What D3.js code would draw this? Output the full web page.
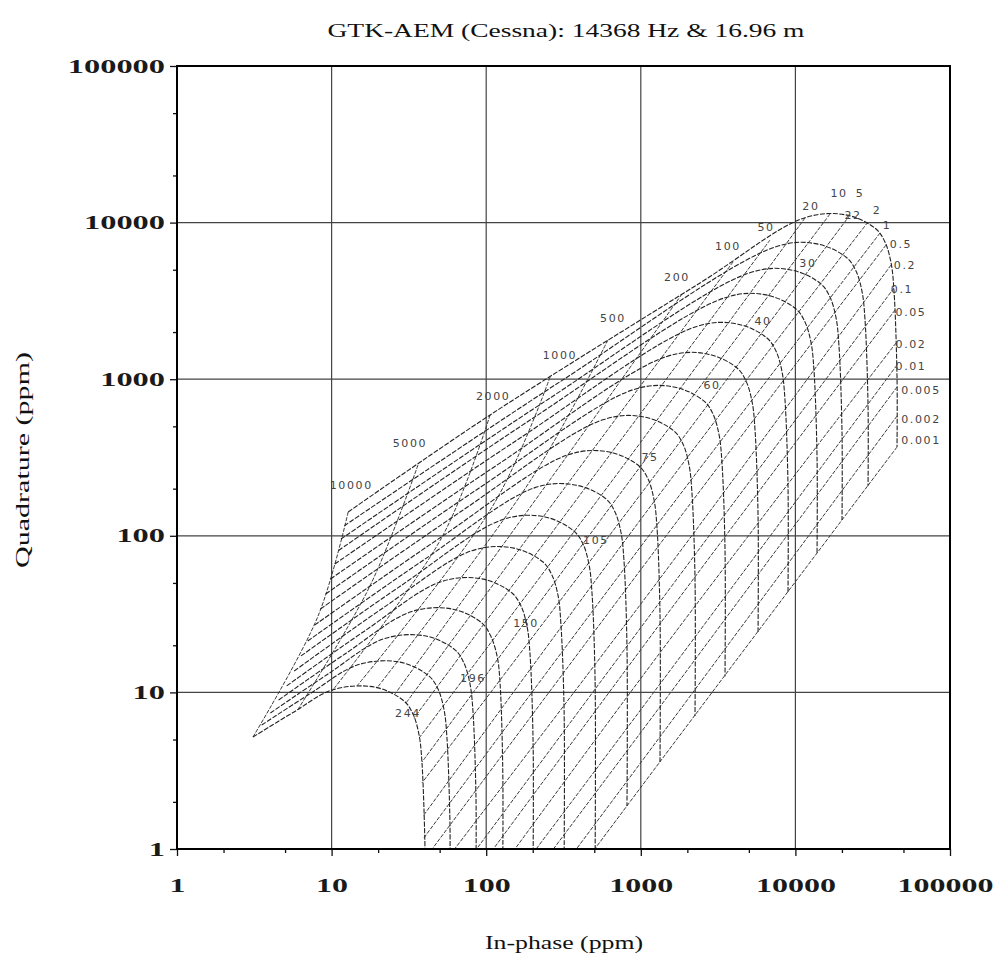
<!DOCTYPE html>
<html>
<head>
<meta charset="utf-8">
<script src="https://cdn.jsdelivr.net/npm/d3@7"></script>
<style>
  body { margin: 0; background: #fff; }
</style>
</head>
<body>
<div class="chart"></div>
<script>
// decade ticks on both axes
const xTicks = [1, 10, 100, 1000, 10000, 100000]
const yTicks = [1, 10, 100, 1000, 10000, 100000]
const minorTicks = [2, 5, 20, 50, 200, 500, 2000, 5000, 20000, 50000]

// height curves (m), lowest altitude first; points are [in-phase, quadrature] in ppm
const heightCurves = [
  [[12.8, 142], [106, 591], [2415, 4116], [11526, 10743], [21583, 11156], [33222, 9101], [37968, 7520], [41584, 5527], [43392, 3708], [45426, 1033], [45426, 369]],
  [[12.1, 116], [302, 967], [7486, 7014], [14017, 7284], [21577, 5941], [24659, 4910], [27008, 3608], [28182, 2421], [29503, 674], [29503, 208]],
  [[11.5, 95.4], [242, 726], [5080, 4784], [9512, 4968], [14641, 4053], [16733, 3349], [18326, 2461], [19123, 1651], [20020, 460], [20020, 126]],
  [[11.1, 80.6], [197, 557], [3502, 3313], [6557, 3441], [10093, 2807], [11535, 2319], [12633, 1704], [13183, 1144], [13801, 319], [13801, 77.7]],
  [[10.5, 66.1], [155, 403], [2273, 2163], [4255, 2246], [6550, 1832], [7486, 1514], [8199, 1113], [8556, 747], [8957, 208], [8957, 43.8]],
  [[9.84, 53.0], [120, 287], [1455, 1392], [2724, 1445], [4192, 1179], [4791, 974], [5248, 716], [5476, 480], [5733, 134], [5733, 24.3]],
  [[9.15, 42.5], [90.2, 202], [889, 856], [1666, 889], [2564, 725], [2930, 600], [3209, 441], [3348, 296], [3505, 82.4], [3505, 12.7]],
  [[8.47, 34.1], [69.4, 144], [569, 551], [1065, 572], [1639, 467], [1874, 386], [2052, 283], [2141, 190], [2242, 53.0], [2242, 7.07]],
  [[7.76, 26.9], [51.2, 98.2], [338, 329], [633, 342], [974, 279], [1113, 231], [1219, 169], [1272, 114], [1331, 31.7], [1331, 3.59]],
  [[7.01, 21.3], [38.1, 68.5], [207, 203], [387, 210], [596, 172], [681, 142], [746, 104], [778, 70.0], [814, 19.5], [814, 1.88]],
  [[6.34, 17.1], [28.5, 48.5], [128, 127], [240, 132], [370, 107], [423, 88.7], [463, 65.2], [483, 43.7], [506, 12.2], [506, 0.8]],
  [[5.73, 13.7], [21.5, 34.6], [80.8, 80.3], [151, 83.4], [233, 68.0], [266, 56.2], [292, 41.3], [304, 27.7], [319, 7.72], [319, 0.8]],
  [[5.12, 11.0], [16.2, 24.5], [51.0, 50.9], [95.4, 52.9], [147, 43.1], [168, 35.6], [184, 26.2], [192, 17.6], [201, 4.89], [201, 0.8]],
  [[4.54, 8.94], [12.2, 17.6], [32.6, 32.7], [61.0, 34.0], [93.9, 27.7], [107, 22.9], [118, 16.8], [123, 11.3], [128, 3.15], [128, 0.8]],
  [[4.02, 7.39], [9.37, 13.0], [21.8, 22.0], [40.8, 22.9], [62.8, 18.7], [71.8, 15.4], [78.6, 11.3], [82.1, 7.60], [85.9, 2.12], [85.9, 0.8]],
  [[3.53, 6.19], [7.24, 9.80], [14.8, 15.0], [27.7, 15.6], [42.7, 12.7], [48.8, 10.5], [53.4, 7.73], [55.7, 5.18], [58.3, 1.44], [58.3, 0.8]],
  [[3.10, 5.19], [5.63, 7.44], [10.2, 10.4], [19.1, 10.8], [29.4, 8.81], [33.6, 7.28], [36.8, 5.35], [38.4, 3.59], [40.2, 1.0], [40.2, 0.8]]
]

// height labels and where they sit
const heightLabels = ["22", "30", "40", "60", "75", "105", "150", "196", "244"]
const heightLabelPos = [[23590, 11020], [12060, 5521], [6172, 2319], [2887, 905], [1147, 314], [513, 94.0], [181, 27.7], [82.1, 12.2], [31.2, 7.28]]

// resistivity lines (ohm-m): start at lowest height, middle, end at highest height
const rhoValues = ["10000", "5000", "2000", "1000", "500", "200", "100", "50", "20", "10", "5", "2", "1",
  "0.5", "0.2", "0.1", "0.05", "0.02", "0.01", "0.005", "0.002", "0.001"]
const rhoLines = [
  [[12.8, 142], [8.17, 30.7], [3.10, 5.19]],
  [[36.2, 283], [17.7, 47.8], [5.97, 7.61]],
  [[106, 591], [51.8, 98.2], [10.06, 10.2]],
  [[259, 1033], [114, 164], [14.6, 11.0]],
  [[613, 1780], [198, 234], [19.7, 10.7]],
  [[1847, 3500], [333, 323], [25.7, 9.77]],
  [[3948, 5603], [483, 348], [30.3, 8.56]],
  [[6850, 7743], [651, 343], [34.1, 6.86]],
  [[11535, 10700], [839, 314], [36.8, 5.11]],
  [[16743, 11350], [988, 275], [38.4, 3.59]],
  [[22550, 11180], [1130, 217], [38.4, 2.64]],
  [[29490, 10090], [1199, 162], [39.0, 1.62]],
  [[35260, 8580], [1254, 115], [39.6, 1.18]],
  [[38550, 7194], [1273, 83.6], [39.6, 0.851]],
  [[41530, 5360], [1292, 51.4], [39.6, 0.555]],
  [[43420, 3823], [1312, 37.2], [39.6, 0.352]],
  [[44090, 2767], [1312, 26.9], [39.6, 0.251]],
  [[44740, 1703], [1312, 17.6], [39.6, 0.161]],
  [[45420, 1232], [1312, 11.1], [39.6, 0.112]],
  [[45420, 892], [1312, 7.95], [39.6, 0.0797]],
  [[45420, 582], [1312, 5.11], [39.6, 0.0498]],
  [[45420, 369], [1312, 3.54], [39.6, 0.0345]]
]
const rhoLabelPos = [[13.4, 208], [32.1, 386], [111, 781], [300, 1427], [661, 2459], [1715, 4429], [3664, 6986],
  [6455, 9237], [12610, 12580], [19140, 15450], [26180, 15450], [33720, 11860], [39130, 9513],
  [48210, 7300], [51170, 5360], [48920, 3712], [55940, 2686], [55940, 1654], [55940, 1214],
  [64930, 853], [64930, 549], [64930, 409]]

let width = 993, height = 971
let plotLeft = 177, plotRight = 950, plotTop = 66, plotBottom = 849

let svg = d3.select(".chart")
    .append("svg")
    .attr("width", width)
    .attr("height", height)
    .style("font-family", "'Liberation Serif', 'Times New Roman', serif")

let x = d3.scaleLog().domain([1, 100000]).range([plotLeft, plotRight])
let y = d3.scaleLog().domain([1, 100000]).range([plotBottom, plotTop])

svg.append("defs").append("clipPath")
    .attr("id", "plot-clip")
    .append("rect")
    .attr("x", plotLeft).attr("y", plotTop)
    .attr("width", plotRight - plotLeft).attr("height", plotBottom - plotTop)

// grid
svg.append("g")
    .selectAll("line")
    .data(xTicks.slice(1, -1))
    .enter()
    .append("line")
    .attr("x1", d => x(d)).attr("x2", d => x(d))
    .attr("y1", plotTop).attr("y2", plotBottom)
    .attr("stroke", "#444")
    .attr("stroke-width", 1.2)
svg.append("g")
    .selectAll("line")
    .data(yTicks.slice(1, -1))
    .enter()
    .append("line")
    .attr("y1", d => y(d)).attr("y2", d => y(d))
    .attr("x1", plotLeft).attr("x2", plotRight)
    .attr("stroke", "#444")
    .attr("stroke-width", 1.2)

let line = d3.line()
    .x(d => x(d[0]))
    .y(d => y(d[1]))
    .curve(d3.curveCatmullRom.alpha(0.5))

let net = svg.append("g").attr("clip-path", "url(#plot-clip)")

net.append("g")
    .selectAll("path")
    .data(rhoLines)
    .enter()
    .append("path")
    .attr("d", line)
    .attr("fill", "none")
    .attr("stroke", "#3a3a3a")
    .attr("stroke-width", 1)
    .attr("stroke-dasharray", "4,1.5")

net.append("g")
    .selectAll("path")
    .data(heightCurves)
    .enter()
    .append("path")
    .attr("d", line)
    .attr("fill", "none")
    .attr("stroke", "#222")
    .attr("stroke-width", 1.1)
    .attr("stroke-dasharray", "5,1.5")

// labels on the net
let labelFont = "'DejaVu Sans', sans-serif"
svg.append("g")
    .selectAll("text")
    .data(rhoValues)
    .enter()
    .append("text")
    .attr("x", (d, i) => x(rhoLabelPos[i][0]))
    .attr("y", (d, i) => y(rhoLabelPos[i][1]))
    .attr("text-anchor", "middle")
    .attr("dominant-baseline", "central")
    .attr("font-family", labelFont)
    .attr("font-size", 11)
    .attr("letter-spacing", 1.6)
    .attr("fill", "#444")
    .text(d => d)

svg.append("g")
    .selectAll("text")
    .data(heightLabels)
    .enter()
    .append("text")
    .attr("x", (d, i) => x(heightLabelPos[i][0]))
    .attr("y", (d, i) => y(heightLabelPos[i][1]))
    .attr("text-anchor", "middle")
    .attr("dominant-baseline", "central")
    .attr("font-family", labelFont)
    .attr("font-size", 11)
    .attr("letter-spacing", 1.6)
    .attr("fill", "#444")
    .text(d => d)

// axes
svg.append("g")
    .attr("class", "x-axis")
    .attr("transform", `translate(0,${plotBottom})`)
    .call(d3.axisBottom(x).tickValues(xTicks).tickFormat(d3.format("d")).tickSize(7).tickSizeOuter(0).tickPadding(23))
svg.append("g")
    .attr("transform", `translate(0,${plotBottom})`)
    .call(d3.axisBottom(x).tickValues(minorTicks).tickFormat("").tickSize(4).tickSizeOuter(0))
svg.append("g")
    .attr("class", "y-axis")
    .attr("transform", `translate(${plotLeft},0)`)
    .call(d3.axisLeft(y).tickValues(yTicks).tickFormat(d3.format("d")).tickSize(7).tickSizeOuter(0).tickPadding(5))
svg.append("g")
    .attr("transform", `translate(${plotLeft},0)`)
    .call(d3.axisLeft(y).tickValues(minorTicks).tickFormat("").tickSize(4).tickSizeOuter(0))

svg.selectAll(".domain").remove()
svg.selectAll(".tick line").attr("stroke", "#111").attr("stroke-width", 1.3)
svg.selectAll(".tick text")
    .attr("font-family", "'Liberation Serif', serif")
    .attr("font-size", 19)
    .attr("font-weight", "bold")
    .attr("fill", "#1a1a1a")
    .attr("textLength", d => String(d).length * 16.2)
    .attr("lengthAdjust", "spacingAndGlyphs")
// the last in-phase label is pulled in so it stays inside the page
svg.select(".x-axis").selectAll(".tick text")
    .attr("textLength", d => String(d).length * 16)
    .attr("x", d => d === 100000 ? -5 : 0)

// frame
svg.append("rect")
    .attr("x", plotLeft).attr("y", plotTop)
    .attr("width", plotRight - plotLeft).attr("height", plotBottom - plotTop)
    .attr("fill", "none")
    .attr("stroke", "#000")
    .attr("stroke-width", 2)

svg.append("text")
    .attr("x", 566).attr("y", 37)
    .attr("text-anchor", "middle")
    .attr("font-size", 18)
    .attr("fill", "#111")
    .attr("textLength", 477)
    .attr("lengthAdjust", "spacingAndGlyphs")
    .text("GTK-AEM (Cessna):  14368 Hz & 16.96 m")

svg.append("text")
    .attr("x", 564).attr("y", 949)
    .attr("text-anchor", "middle")
    .attr("font-size", 19)
    .attr("fill", "#111")
    .attr("textLength", 158)
    .attr("lengthAdjust", "spacingAndGlyphs")
    .text("In-phase (ppm)")

svg.append("text")
    .attr("transform", `translate(29,460) rotate(-90)`)
    .attr("text-anchor", "middle")
    .attr("font-size", 19)
    .attr("fill", "#111")
    .attr("textLength", 216)
    .attr("lengthAdjust", "spacingAndGlyphs")
    .text("Quadrature (ppm)")
</script>
</body>
</html>
